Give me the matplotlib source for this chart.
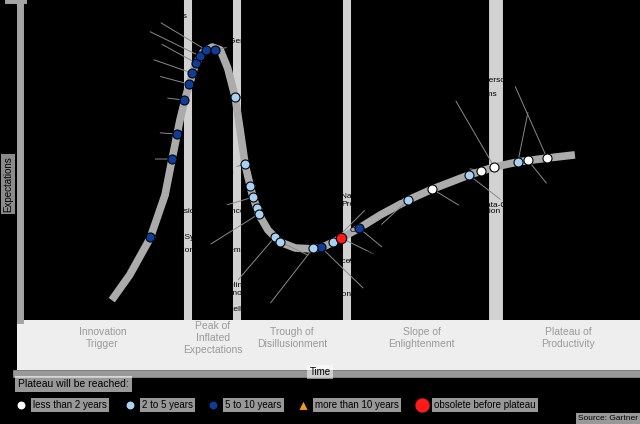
import matplotlib.pyplot as plt
from matplotlib.lines import Line2D

plt.rcParams['font.family'] = ['Liberation Sans', 'DejaVu Sans']

# Hype curve, time vs expectations (both 0-100)
curve_x = [14.8, 17.7, 21.0, 23.4, 24.5, 25.8, 26.8, 28.2, 29.5, 31.0, 32.3, 33.5,
           34.7, 35.5, 36.3, 37.4, 38.5, 40.0, 41.9, 44.4, 47.3, 49.2, 51.8, 54.7,
           58.1, 62.6, 66.5, 72.4, 76.5, 80.3, 85.0, 89.5]
curve_y = [6.2, 14.1, 25.6, 39.1, 50.0, 62.5, 70.3, 79.4, 83.7, 85.3, 84.4, 78.7,
           69.7, 59.4, 48.7, 39.7, 33.1, 28.1, 24.4, 22.5, 22.2, 23.1, 25.6, 28.7,
           32.8, 37.5, 40.9, 45.3, 47.8, 49.4, 50.6, 51.6]

# Technologies on the curve
tech_names = ["Neuro-Symbolic AI", "Multiagent Systems", "Causal AI", "Smart Robots",
              "AI Simulation", "Responsible AI", "AI TRiSM", "Prompt Engineering",
              "Foundation Models", "Generative AI", "Synthetic Data", "ModelOps",
              "Edge AI", "Decision Intelligence", "AI Engineering",
              "Operational AI Systems", "Data Labeling and\nAnnotation", "Cloud AI Services",
              "Autonomous Vehicles", "Intelligent Applications",
              "Natural Language\nProcessing", "Autonomic Systems", "Knowledge Graphs",
              "Composite AI", "Computer Vision", "Data-Centric AI", "Speech Recognition",
              "Cloud Data Ecosystems", "Chatbots", "Intelligent\nAutomation", "Personalization"]
tech_x = [21.0, 24.5, 25.3, 26.5, 27.3, 27.7, 28.4, 29.0, 30.0, 31.5, 34.7, 36.3,
          37.1, 37.6, 38.2, 38.5, 41.1, 41.9, 48.5, 47.3, 50.5, 51.8, 54.7,
          62.6, 66.5, 72.4, 74.4, 76.5, 80.3, 81.9, 85.0]
tech_y = [25.9, 50.3, 58.1, 68.7, 73.7, 77.2, 80.3, 82.5, 84.4, 84.4, 69.7, 48.7,
          41.9, 38.4, 35.0, 33.1, 25.9, 24.4, 22.8, 22.5, 24.4, 25.6, 28.7,
          37.5, 40.9, 45.3, 46.6, 47.8, 49.4, 50.0, 50.6]
tech_years = ["5to10", "5to10", "5to10", "5to10", "5to10", "5to10", "5to10", "5to10",
              "5to10", "5to10", "2to5", "2to5", "2to5", "2to5", "2to5", "2to5", "2to5",
              "2to5", "5to10", "2to5", "2to5", "obsolete", "5to10", "2to5", "lt2",
              "2to5", "lt2", "lt2", "2to5", "lt2", "lt2"]

# label offsets (points) and alignment
label_offsets = [(6, 0, 'left'), (-14, 0, 'right'), (-14, 2, 'right'), (-14, 4, 'right'),
                 (-20, 10, 'right'), (-20, 14, 'right'), (-20, 18, 'right'), (-18, 22, 'right'),
                 (-14, 24, 'right'), (10, 6, 'left'), (6, 0, 'left'), (-8, -6, 'right'),
                 (6, 0, 'left'), (-6, -10, 'right'), (6, -4, 'left'), (-10, -26, 'right'),
                 (-8, -38, 'right'), (6, -14, 'left'), (6, -34, 'left'), (-4, -44, 'right'),
                 (6, 30, 'left'), (6, -16, 'left'), (-4, -18, 'left'), (-6, -22, 'right'),
                 (4, -16, 'left'), (8, -22, 'left'), (-6, 6, 'right'), (2, 52, 'right'),
                 (-4, 40, 'left'), (4, -24, 'left'), (-4, 56, 'right')]

phase_names = ["Innovation\nTrigger", "Peak of\nInflated\nExpectations",
               "Trough of\nDisillusionment", "Slope of\nEnlightenment",
               "Plateau of\nProductivity"]
phase_edges = [-0.5, 27.1, 35.0, 52.7, 76.8, 100]

year_keys = ["lt2", "2to5", "5to10", "gt10", "obsolete"]
year_labels = ["less than 2 years", "2 to 5 years", "5 to 10 years",
               "more than 10 years", "obsolete before plateau"]

styles = {
    "lt2": dict(marker='o', color='white', ms=6.5),
    "2to5": dict(marker='o', color='#a8d2f5', ms=6.5),
    "5to10": dict(marker='o', color='#0d3c9a', ms=6.5),
    "gt10": dict(marker='^', color='#f39a1e', ms=7),
    "obsolete": dict(marker='o', color='#ff1a1a', ms=7.5),
}

fig = plt.figure(figsize=(6.4, 4.24), dpi=100, facecolor='black')
W, H = 640.0, 424.0

# main area
ax = fig.add_axes([20 / W, 104 / H, 620 / W, 320 / H])
ax.set_xlim(0, 100)
ax.set_ylim(0, 100)
ax.axis('off')

for i, e in enumerate(phase_edges[1:-1]):
    ax.axvline(e, color='#d2d2d2', lw=10 if i == 3 else 5.8, zorder=1)

ax.plot(curve_x, curve_y, color='#ababab', lw=5.5, solid_capstyle='butt', zorder=2)

for name, x, y, k, off in zip(tech_names, tech_x, tech_y, tech_years, label_offsets):
    s = styles[k]
    ax.plot(x, y, s['marker'], ms=s['ms'], mfc=s['color'], mec='black', mew=0.8,
            zorder=4 if k != 'obsolete' else 5)
    ax.annotate(name, (x, y), xytext=(off[0], off[1]), textcoords='offset points',
                ha=off[2], va='center', fontsize=6, color='black',
                arrowprops=dict(arrowstyle='-', color='#8a8a8a', lw=0.7,
                                shrinkA=0, shrinkB=3), zorder=3)

# y axis arrow
fig.add_artist(Line2D([19.5 / W, 19.5 / W], [104 / H, 1.0], color='#a4a4a4', lw=5,
                      transform=fig.transFigure))
fig.add_artist(Line2D([8 / W, 23 / W], [1.0, 1.0], color='#a4a4a4', lw=5,
                      transform=fig.transFigure))
fig.text(8 / W, 1 - 184 / H, "Expectations", rotation=90, ha='center', va='center',
         fontsize=7, color='black',
         bbox=dict(boxstyle='square,pad=0.2', fc='white', ec='none', alpha=0.55))

# phase band
band = fig.add_axes([17 / W, 54 / H, 623 / W, 50 / H])
band.set_xlim(phase_edges[0], phase_edges[-1])
band.set_ylim(0, 1)
band.set_facecolor('#eeeeee')
band.set_xticks([])
band.set_yticks([])
for sp in band.spines.values():
    sp.set_visible(False)
for i, p in enumerate(phase_names):
    band.text((phase_edges[i] + phase_edges[i + 1]) / 2, 0.64, p, ha='center',
              va='center', fontsize=7.5, color='#9a9a9a', linespacing=1.25)

# x axis strip
fig.add_artist(Line2D([17 / W, 1.0], [1 - 374 / H, 1 - 374 / H], color='#999999', lw=5.5,
                      transform=fig.transFigure))
fig.text(320 / W, 1 - 372 / H, "Time", ha='center', va='center', fontsize=7, color='black',
         bbox=dict(boxstyle='square,pad=0.25', fc='white', ec='none', alpha=0.55))

# legend
fig.text(18 / W, 1 - 384 / H, "Plateau will be reached:", ha='left', va='center',
         fontsize=7.5, color='black',
         bbox=dict(boxstyle='square,pad=0.3', fc='white', ec='none', alpha=0.6))
leg = fig.add_axes([0, 0, 1, 1], facecolor='none')
leg.set_xlim(0, W)
leg.set_ylim(H, 0)
leg.axis('off')
leg_x = [21, 130, 213, 303, 422]
for k, lab, lx in zip(year_keys, year_labels, leg_x):
    s = styles[k]
    leg.plot(lx, 405, s['marker'], ms=s['ms'] if k != 'obsolete' else 9.5,
             mfc=s['color'], mec='black' if k != 'obsolete' else s['color'], mew=0.8)
    leg.text(lx + 12, 405, lab, ha='left', va='center', fontsize=7, color='black',
             bbox=dict(boxstyle='square,pad=0.25', fc='white', ec='none', alpha=0.6))

fig.text(638 / W, 2 / H, "Source: Gartner", ha='right', va='bottom', fontsize=6,
         color='black', bbox=dict(boxstyle='square,pad=0.2', fc='white', ec='none', alpha=0.6))

fig.savefig('out.png', dpi=100, facecolor='black')
